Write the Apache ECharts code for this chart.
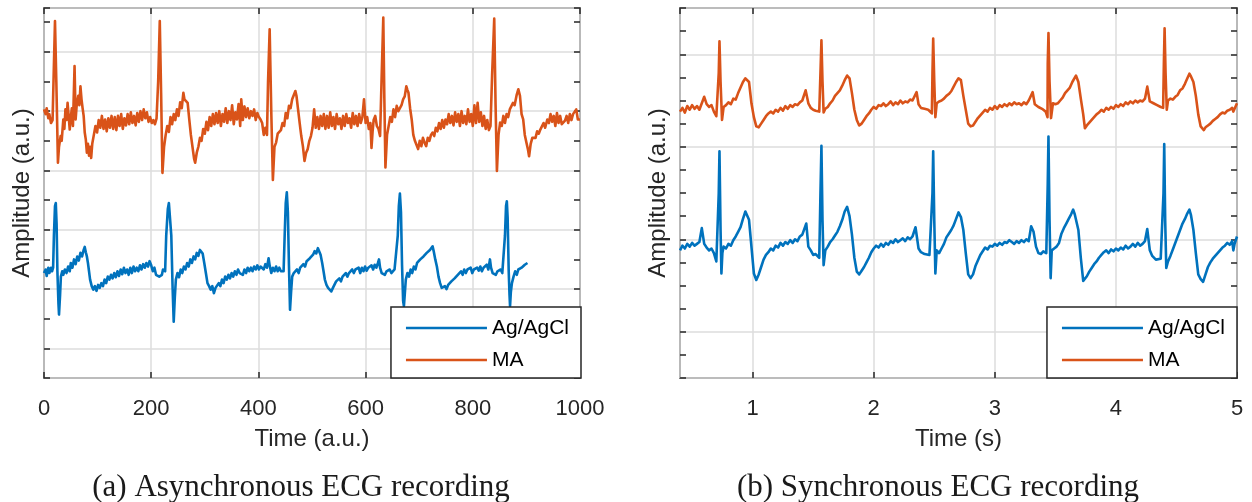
<!DOCTYPE html>
<html>
<head>
<meta charset="utf-8">
<script src="https://cdn.jsdelivr.net/npm/echarts@6/dist/echarts.min.js"></script>
<style>
  html, body { margin: 0; padding: 0; background: #fff; }
  #chart { width: 1252px; height: 502px; }
</style>
</head>
<body>
<div id="chart"></div>
<script>
// ---- (a) asynchronous recording: [time (a.u.), amplitude (a.u.)] ----
const asyncAgAgCl = [
  [0,1.27],[3,1.33],[5,1.22],[8,1.36],[10,1.27],[13,1.36],[15,1.30],[17,1.36],[18.5,1.9],[20.5,2.40],[22,2.45],[23.5,2.1],
  [25,1.3],[27,0.75],[28,0.57],[30,0.9],[31.5,1.21],[34,1.30],[36,1.24],[39,1.33],[42,1.27],[45,1.38],[48,1.30],[50,1.44],
  [53,1.36],[56,1.50],[59,1.42],[62,1.55],[65,1.48],[68,1.61],[71,1.55],[74,1.66],[76,1.71],[78,1.62],[80,1.55],[82,1.44],
  [84,1.30],[86,1.16],[89,1.05],[92,0.99],[95,1.05],[98,0.97],[101,1.07],[104,1.02],[107,1.10],[110,1.05],[113,1.16],
  [116,1.10],[119,1.21],[122,1.16],[125,1.24],[128,1.18],[131,1.27],[134,1.20],[137,1.30],[140,1.22],[143,1.33],[146,1.25],
  [149,1.36],[152,1.27],[155,1.33],[158,1.24],[161,1.36],[164,1.27],[167,1.38],[170,1.30],[173,1.36],[176,1.30],[179,1.40],
  [182,1.33],[185,1.42],[188,1.36],[191,1.44],[194,1.38],[197,1.47],[200,1.40],[203,1.30],[206,1.36],[209,1.24],[212,1.27],
  [215,1.21],[218,1.24],[220,1.24],[222,1.33],[226,1.30],[228,1.9],[231,2.35],[233,2.45],[235.5,2.45],[237.5,1.9],[240,1.0],
  [242,0.45],[244,0.85],[246,1.16],[249,1.27],[252,1.20],[255,1.33],[258,1.27],[261,1.38],[264,1.33],[267,1.44],[270,1.38],
  [273,1.50],[276,1.44],[279,1.55],[282,1.50],[285,1.61],[288,1.56],[291,1.66],[294,1.69],[296,1.60],[299,1.44],[302,1.27],
  [305,1.10],[308,1.05],[311,0.99],[314,1.05],[317,0.93],[320,1.02],[323,0.99],[326,1.10],[329,1.05],[332,1.16],[335,1.10],
  [338,1.21],[341,1.16],[344,1.24],[347,1.18],[350,1.27],[353,1.21],[356,1.30],[359,1.24],[362,1.33],[365,1.27],[368,1.30],
  [371,1.24],[374,1.33],[377,1.27],[380,1.36],[383,1.30],[386,1.36],[389,1.30],[392,1.38],[395,1.33],[398,1.40],[401,1.33],
  [404,1.38],[407,1.38],[410,1.33],[413,1.42],[416,1.36],[419,1.52],[421,1.40],[424,1.27],[427,1.36],[430,1.30],[433,1.38],
  [436,1.30],[439,1.36],[442,1.30],[445,1.33],[447,1.30],[449,1.9],[451,2.45],[453,2.63],[455,2.3],[457,1.4],[459,0.65],
  [461,0.95],[463,1.21],[466,1.27],[469,1.24],[472,1.33],[475,1.27],[478,1.36],[481,1.33],[484,1.42],[487,1.38],[490,1.47],
  [493,1.44],[496,1.52],[499,1.50],[502,1.58],[505,1.64],[508,1.60],[511,1.69],[513,1.71],[516,1.58],[519,1.44],[521,1.33],
  [524,1.16],[527,1.07],[530,1.02],[533,1.05],[536,0.96],[539,1.02],[542,1.05],[545,1.13],[548,1.10],[551,1.18],[554,1.13],
  [557,1.21],[560,1.18],[563,1.27],[566,1.21],[569,1.27],[572,1.24],[575,1.33],[578,1.27],[581,1.33],[584,1.30],[587,1.36],
  [590,1.27],[593,1.36],[596,1.30],[599,1.38],[602,1.31],[605,1.36],[608,1.33],[611,1.40],[614,1.33],[617,1.41],[620,1.36],
  [623,1.44],[625,1.50],[627,1.36],[630,1.27],[633,1.30],[636,1.24],[639,1.30],[642,1.27],[645,1.33],[648,1.27],[651,1.30],
  [654,1.33],[657,1.30],[660,1.9],[662,2.4],[664,2.61],[666,2.3],[668,1.4],[670,0.8],[671.5,0.71],[673,0.9],[675,1.16],
  [678,1.27],[681,1.21],[684,1.33],[687,1.27],[690,1.38],[693,1.33],[696,1.44],[699,1.41],[702,1.50],[705,1.47],[708,1.55],
  [711,1.52],[714,1.61],[717,1.58],[720,1.66],[723,1.69],[725,1.72],[727,1.64],[730,1.50],[733,1.38],[736,1.21],[739,1.10],
  [742,1.02],[745,0.99],[748,1.05],[751,1.00],[754,1.07],[757,1.05],[760,1.13],[763,1.10],[766,1.18],[769,1.16],[772,1.24],
  [775,1.21],[778,1.30],[781,1.24],[784,1.33],[787,1.27],[790,1.33],[793,1.30],[796,1.36],[799,1.27],[802,1.33],[805,1.30],
  [808,1.36],[811,1.31],[814,1.38],[817,1.30],[820,1.36],[823,1.33],[826,1.41],[829,1.33],[832,1.50],[834,1.36],[837,1.27],
  [840,1.30],[843,1.24],[846,1.30],[849,1.27],[852,1.33],[855,1.27],[858,1.30],[860,1.9],[862,2.4],[863.5,2.48],[865,2.2],
  [867,1.3],[868.5,0.9],[869.5,0.71],[871,0.95],[873,1.10],[876,1.21],[879,1.30],[882,1.24],[885,1.33],[888,1.30],[891,1.36],
  [894,1.33],[897,1.41],[900,1.42],[902,1.44]
];

const asyncMA = [
  [0,4.03],[3,3.95],[5,4.05],[8,3.88],[10,3.95],[13,3.80],[16,3.85],[18,4.60],[20.5,5.52],[23,4.50],[26,3.13],[28,3.40],
  [31,3.58],[33,3.50],[36,3.86],[38,3.70],[40,4.03],[42,3.85],[44,4.14],[46,3.92],[48,3.69],[50,3.90],[52,4.05],[54,3.75],
  [57,4.76],[59,3.86],[61,4.10],[64,4.26],[66,4.10],[68,4.42],[70,4.20],[72,4.05],[74,3.92],[76,3.64],[78,3.52],[80,3.30],
  [82,3.45],[84,3.25],[86,3.40],[88,3.21],[90,3.45],[93,3.60],[96,3.75],[99,3.64],[102,3.85],[105,3.72],[108,3.92],[111,3.70],
  [114,3.86],[117,3.66],[120,3.88],[123,3.72],[126,3.92],[129,3.70],[132,3.90],[135,3.68],[138,3.92],[141,3.75],[144,3.95],
  [147,3.70],[150,3.88],[153,3.76],[156,3.95],[159,3.78],[162,3.98],[165,3.80],[168,3.92],[171,3.76],[174,3.97],[177,3.82],
  [180,4.00],[183,3.85],[186,4.03],[189,3.88],[192,3.98],[195,3.82],[198,3.90],[201,3.80],[204,3.85],[207,3.78],[210,3.88],
  [213,4.50],[216,5.52],[218.5,4.30],[221,2.96],[224,3.40],[227,3.60],[230,3.75],[233,3.65],[236,3.90],[239,3.78],[242,3.95],
  [245,3.85],[248,4.03],[251,3.92],[254,4.15],[257,4.05],[260,4.31],[262,4.20],[265,4.22],[268,4.14],[271,3.86],[274,3.60],
  [277,3.40],[280,3.20],[282,3.13],[285,3.30],[288,3.40],[291,3.55],[294,3.50],[297,3.70],[300,3.62],[303,3.82],[306,3.68],
  [309,3.90],[312,3.75],[315,3.95],[318,3.78],[321,3.97],[324,3.80],[327,4.00],[330,3.75],[333,3.95],[336,3.82],[339,4.05],
  [342,3.80],[345,4.00],[348,3.85],[351,4.10],[354,3.78],[357,3.98],[360,3.86],[363,4.12],[366,3.75],[368,4.20],[371,3.85],
  [374,4.08],[377,3.90],[380,4.05],[383,3.88],[386,4.00],[389,3.92],[392,4.03],[395,3.85],[398,3.97],[401,3.90],[404,3.86],
  [407,3.80],[410,3.60],[413,3.72],[416,3.60],[418,4.50],[421,5.38],[424,4.00],[427,2.84],[430,3.40],[433,3.47],[436,3.62],
  [439,3.64],[442,3.68],[445,3.80],[448,3.75],[451,3.97],[454,3.88],[457,4.09],[460,4.05],[463,4.20],[466,4.22],[469,4.34],
  [471,4.26],[474,4.03],[477,3.80],[480,3.58],[483,3.41],[486,3.16],[489,3.30],[492,3.36],[495,3.50],[498,3.58],[501,3.72],
  [504,4.03],[507,3.72],[510,3.90],[513,3.70],[516,3.92],[519,3.75],[522,3.95],[525,3.70],[528,3.92],[531,3.72],[534,3.98],
  [537,3.75],[540,3.90],[543,3.70],[546,3.95],[549,3.78],[552,3.88],[555,3.70],[558,3.92],[561,3.75],[564,3.95],[567,3.80],
  [570,3.88],[573,3.72],[576,3.97],[579,3.78],[582,3.92],[585,3.75],[588,3.95],[591,3.80],[594,3.90],[597,4.20],[600,3.80],
  [603,3.90],[606,3.70],[609,3.80],[611,3.38],[613,3.65],[615,3.85],[618,3.92],[621,3.75],[624,3.70],[627,3.58],[630,4.60],
  [633,5.58],[635,4.20],[637,3.05],[640,3.60],[643,3.75],[646,3.90],[649,3.82],[652,4.03],[655,3.90],[658,4.09],[661,4.00],
  [664,4.03],[667,4.10],[670,4.20],[673,4.25],[676,4.42],[678,4.36],[680,4.31],[683,4.05],[686,3.86],[689,3.60],[692,3.50],
  [695,3.47],[698,3.36],[701,3.50],[704,3.41],[707,3.55],[710,3.47],[713,3.41],[716,3.55],[719,3.50],[722,3.60],[725,3.64],
  [728,3.58],[731,3.72],[734,3.66],[737,3.80],[740,3.70],[743,3.85],[746,3.72],[749,3.86],[752,3.78],[755,3.95],[758,3.80],
  [761,3.92],[764,3.76],[767,3.98],[770,3.82],[773,3.95],[776,3.75],[779,4.00],[782,3.80],[785,3.92],[788,3.78],[791,4.03],
  [794,3.82],[797,3.95],[800,3.75],[803,4.10],[806,3.80],[809,4.14],[812,3.82],[815,3.98],[818,3.75],[821,3.92],[824,3.70],
  [827,3.85],[830,3.68],[833,3.75],[836,4.60],[840,5.56],[842.5,4.10],[845,2.99],[848,3.60],[851,3.81],[854,3.75],[857,3.92],
  [860,3.80],[863,3.95],[866,3.90],[869,4.03],[872,4.00],[875,4.14],[878,4.10],[882,4.28],[885,4.37],[888,4.26],[891,3.95],
  [894,3.86],[897,3.60],[900,3.47],[903,3.35],[905,3.24],[908,3.45],[911,3.55],[914,3.58],[917,3.55],[920,3.66],[923,3.62],
  [926,3.69],[929,3.66],[932,3.80],[935,3.72],[939,3.86],[942,3.80],[945,3.95],[948,3.82],[951,3.92],[954,3.75],[957,3.97],
  [960,3.80],[963,3.92],[966,3.78],[969,3.81],[972,3.84],[975,3.92],[978,3.80],[981,3.95],[984,3.85],[987,3.95],[990,3.97],
  [993,4.03],[996,3.86],[1000,3.86]
];

// ---- (b) synchronous recording: [time (s), amplitude (a.u.)] ----
const syncAgAgCl = [
  [0.40,0.88],[0.42,0.93],[0.44,0.90],[0.46,0.95],[0.48,0.92],[0.50,0.96],[0.52,0.93],[0.54,0.95],[0.56,0.97],[0.58,1.12],
  [0.60,0.95],[0.62,0.91],[0.64,0.88],[0.66,0.90],[0.68,0.85],[0.70,0.76],[0.715,0.74],[0.72,1.5],[0.726,1.95],[0.735,1.1],
  [0.742,0.63],[0.75,0.85],[0.76,0.92],[0.78,0.90],[0.80,0.95],[0.82,0.93],[0.84,0.99],[0.86,1.03],[0.88,1.08],[0.90,1.13],
  [0.92,1.22],[0.94,1.30],[0.955,1.30],[0.97,1.21],[0.99,0.92],[1.01,0.63],[1.03,0.56],[1.05,0.62],[1.07,0.70],[1.09,0.78],
  [1.11,0.83],[1.13,0.86],[1.15,0.90],[1.17,0.88],[1.19,0.93],[1.21,0.91],[1.23,0.96],[1.25,0.93],[1.27,0.97],[1.29,0.95],
  [1.31,0.99],[1.33,0.96],[1.35,1.00],[1.37,0.98],[1.39,1.03],[1.41,1.05],[1.443,1.17],[1.46,0.92],[1.48,0.88],[1.50,0.83],
  [1.52,0.84],[1.55,0.80],[1.56,1.5],[1.568,2.01],[1.577,1.2],[1.586,0.72],[1.60,0.88],[1.62,0.92],[1.64,0.97],[1.66,1.00],
  [1.68,1.04],[1.70,1.08],[1.72,1.14],[1.74,1.21],[1.76,1.30],[1.78,1.35],[1.80,1.25],[1.82,1.05],[1.84,0.80],[1.86,0.65],
  [1.88,0.62],[1.90,0.66],[1.92,0.70],[1.94,0.75],[1.96,0.80],[1.98,0.86],[2.00,0.90],[2.02,0.93],[2.04,0.91],[2.06,0.95],
  [2.08,0.92],[2.10,0.96],[2.12,0.94],[2.14,0.98],[2.16,0.96],[2.18,1.00],[2.20,0.97],[2.22,0.99],[2.24,1.01],[2.26,0.98],
  [2.28,1.02],[2.30,1.00],[2.32,1.03],[2.345,1.13],[2.37,0.90],[2.39,0.86],[2.42,0.84],[2.46,0.83],[2.485,1.5],[2.491,1.95],
  [2.50,1.2],[2.509,0.63],[2.52,0.88],[2.54,0.85],[2.56,0.90],[2.58,0.95],[2.60,1.02],[2.62,1.06],[2.64,1.10],[2.66,1.15],
  [2.68,1.22],[2.70,1.29],[2.72,1.24],[2.74,1.10],[2.76,0.85],[2.78,0.62],[2.80,0.58],[2.82,0.62],[2.84,0.71],[2.86,0.77],
  [2.88,0.83],[2.90,0.87],[2.92,0.91],[2.94,0.89],[2.96,0.93],[2.98,0.92],[3.00,0.95],[3.02,0.93],[3.04,0.96],[3.06,0.94],
  [3.08,0.97],[3.10,0.96],[3.12,0.99],[3.14,0.97],[3.16,0.95],[3.18,0.98],[3.20,0.96],[3.22,0.99],[3.24,0.97],[3.26,1.00],
  [3.28,0.98],[3.30,1.14],[3.32,1.08],[3.34,0.92],[3.36,0.85],[3.38,0.84],[3.40,0.87],[3.425,0.85],[3.437,1.6],[3.443,2.11],
  [3.452,1.2],[3.461,0.58],[3.47,0.88],[3.49,0.90],[3.51,0.92],[3.53,0.96],[3.55,1.06],[3.57,1.12],[3.59,1.17],[3.61,1.22],
  [3.63,1.27],[3.647,1.32],[3.66,1.27],[3.69,1.10],[3.71,0.80],[3.73,0.55],[3.744,0.53],[3.76,0.60],[3.78,0.65],[3.80,0.69],
  [3.82,0.73],[3.84,0.76],[3.86,0.80],[3.88,0.83],[3.90,0.86],[3.92,0.88],[3.94,0.85],[3.96,0.89],[3.98,0.87],[4.00,0.90],
  [4.02,0.88],[4.04,0.91],[4.06,0.89],[4.08,0.93],[4.10,0.90],[4.12,0.92],[4.14,0.95],[4.16,0.92],[4.18,0.96],[4.20,0.93],
  [4.22,0.95],[4.24,0.98],[4.259,1.11],[4.28,0.88],[4.30,0.82],[4.33,0.78],[4.37,0.79],[4.393,1.5],[4.399,2.03],[4.407,1.2],
  [4.416,0.69],[4.43,0.76],[4.45,0.82],[4.47,0.89],[4.49,0.96],[4.51,1.03],[4.53,1.10],[4.55,1.17],[4.57,1.22],[4.59,1.28],
  [4.607,1.32],[4.62,1.26],[4.64,1.10],[4.66,0.85],[4.68,0.62],[4.70,0.57],[4.72,0.54],[4.74,0.62],[4.76,0.70],[4.78,0.75],
  [4.80,0.79],[4.82,0.82],[4.84,0.85],[4.86,0.88],[4.88,0.91],[4.90,0.93],[4.92,0.96],[4.94,0.94],[4.96,0.98],[4.97,0.88],
  [4.98,0.95],[5.00,1.03]
];

const syncMA = [
  [0.40,2.38],[0.42,2.42],[0.44,2.37],[0.46,2.44],[0.48,2.40],[0.50,2.45],[0.52,2.41],[0.54,2.44],[0.56,2.40],[0.58,2.47],
  [0.60,2.54],[0.62,2.46],[0.64,2.43],[0.66,2.45],[0.68,2.38],[0.70,2.33],[0.71,2.32],[0.72,2.8],[0.726,3.14],[0.735,2.7],
  [0.747,2.29],[0.76,2.43],[0.78,2.45],[0.80,2.48],[0.82,2.46],[0.84,2.52],[0.86,2.51],[0.88,2.58],[0.90,2.64],[0.92,2.70],
  [0.94,2.74],[0.955,2.75],[0.97,2.70],[0.99,2.47],[1.01,2.32],[1.03,2.22],[1.05,2.21],[1.07,2.25],[1.09,2.29],[1.11,2.33],
  [1.13,2.36],[1.15,2.38],[1.17,2.36],[1.19,2.40],[1.21,2.38],[1.23,2.42],[1.25,2.39],[1.27,2.44],[1.29,2.41],[1.31,2.45],
  [1.33,2.43],[1.35,2.46],[1.37,2.45],[1.39,2.48],[1.41,2.50],[1.4375,2.61],[1.46,2.47],[1.48,2.42],[1.50,2.40],[1.52,2.39],
  [1.55,2.38],[1.56,2.8],[1.568,3.15],[1.577,2.7],[1.586,2.37],[1.60,2.41],[1.62,2.43],[1.64,2.47],[1.66,2.50],[1.68,2.55],
  [1.70,2.58],[1.72,2.61],[1.74,2.66],[1.76,2.72],[1.78,2.77],[1.80,2.74],[1.82,2.58],[1.84,2.40],[1.86,2.29],[1.88,2.23],
  [1.90,2.25],[1.92,2.29],[1.94,2.33],[1.96,2.36],[1.98,2.40],[2.00,2.43],[2.02,2.41],[2.04,2.45],[2.06,2.44],[2.08,2.47],
  [2.10,2.44],[2.12,2.46],[2.14,2.49],[2.16,2.45],[2.18,2.48],[2.20,2.46],[2.22,2.50],[2.24,2.47],[2.26,2.49],[2.28,2.48],
  [2.30,2.51],[2.32,2.50],[2.354,2.59],[2.37,2.46],[2.39,2.42],[2.42,2.41],[2.45,2.40],[2.48,2.36],[2.485,2.8],[2.491,3.17],
  [2.50,2.7],[2.509,2.32],[2.52,2.47],[2.54,2.49],[2.56,2.50],[2.58,2.52],[2.60,2.55],[2.62,2.57],[2.64,2.60],[2.66,2.65],
  [2.68,2.70],[2.70,2.74],[2.72,2.72],[2.74,2.55],[2.76,2.40],[2.78,2.25],[2.80,2.22],[2.82,2.23],[2.84,2.27],[2.86,2.31],
  [2.88,2.34],[2.90,2.37],[2.92,2.40],[2.94,2.38],[2.96,2.42],[2.98,2.40],[3.00,2.44],[3.02,2.41],[3.04,2.45],[3.06,2.43],
  [3.08,2.46],[3.10,2.44],[3.12,2.47],[3.14,2.45],[3.16,2.48],[3.18,2.46],[3.20,2.47],[3.22,2.45],[3.24,2.48],[3.26,2.46],
  [3.28,2.50],[3.3125,2.59],[3.33,2.46],[3.36,2.43],[3.39,2.41],[3.42,2.38],[3.435,2.32],[3.437,2.9],[3.443,3.23],[3.452,2.7],
  [3.464,2.31],[3.48,2.47],[3.50,2.46],[3.52,2.47],[3.54,2.50],[3.56,2.53],[3.58,2.58],[3.60,2.61],[3.62,2.64],[3.64,2.70],
  [3.67,2.77],[3.69,2.70],[3.71,2.52],[3.73,2.35],[3.744,2.20],[3.76,2.23],[3.78,2.26],[3.80,2.29],[3.82,2.32],[3.84,2.35],
  [3.86,2.37],[3.88,2.40],[3.90,2.38],[3.92,2.42],[3.94,2.40],[3.96,2.43],[3.98,2.41],[4.00,2.45],[4.02,2.43],[4.04,2.46],
  [4.06,2.44],[4.08,2.48],[4.10,2.46],[4.12,2.49],[4.14,2.47],[4.16,2.50],[4.18,2.48],[4.20,2.50],[4.22,2.49],[4.24,2.52],
  [4.259,2.65],[4.28,2.49],[4.31,2.47],[4.34,2.45],[4.37,2.43],[4.39,2.42],[4.396,2.9],[4.402,3.28],[4.41,2.8],[4.42,2.40],
  [4.43,2.50],[4.45,2.52],[4.47,2.51],[4.49,2.54],[4.51,2.56],[4.53,2.61],[4.55,2.63],[4.57,2.68],[4.59,2.74],[4.607,2.79],
  [4.62,2.76],[4.64,2.70],[4.66,2.55],[4.68,2.35],[4.70,2.22],[4.726,2.18],[4.74,2.21],[4.76,2.23],[4.78,2.25],[4.80,2.28],
  [4.82,2.30],[4.84,2.32],[4.86,2.35],[4.88,2.37],[4.90,2.36],[4.92,2.39],[4.94,2.40],[4.96,2.42],[4.97,2.38],[4.98,2.39],
  [5.00,2.47]
];

// axis ranges and tick steps
const asyncTimeRange = [0, 1000];
const asyncTimeStep = 200;
const asyncAmpRange = [-0.5, 5.74];
const asyncAmpTickStep = 0.5;
const syncTimeRange = [0.4, 5];
const syncAmpRange = [-0.5, 3.5];
const syncAmpTickStep = 0.25;

const seriesNames = ['Ag/AgCl', 'MA'];
const captions = ['(a) Asynchronous ECG recording', '(b) Synchronous ECG recording'];
const xTitles = ['Time (a.u.)', 'Time (s)'];
const yTitle = 'Amplitude (a.u.)';

const INK = '#262626';
const BLUE = '#0072BD';
const ORANGE = '#D95319';
const GRIDLINE = '#dcdcdc';
const SANS = 'Liberation Sans';

const tickStyle = { show: true, inside: true, length: 6, lineStyle: { color: INK, width: 1.5 } };

function bottomX(gridIndex, range, interval, title) {
  const ax = {
    type: 'value', gridIndex, position: 'bottom', min: range[0], max: range[1],
    axisLine: { show: false, onZero: false },
    axisTick: tickStyle,
    axisLabel: { show: true, color: INK, fontFamily: SANS, fontSize: 22, margin: 20,
                 showMinLabel: interval != null, formatter: v => String(v) },
    splitLine: { show: true, lineStyle: { color: GRIDLINE, width: 1.5 } },
    name: title, nameLocation: 'middle', nameGap: 49,
    nameTextStyle: { color: INK, fontFamily: SANS, fontSize: 24 }
  };
  if (interval != null) ax.interval = interval; else ax.splitNumber = 5;
  return ax;
}
function topX(gridIndex, range, interval) {
  const ax = {
    type: 'value', gridIndex, position: 'top', min: range[0], max: range[1],
    axisLine: { show: false, onZero: false }, axisTick: tickStyle,
    axisLabel: { show: false }, splitLine: { show: false }
  };
  if (interval != null) ax.interval = interval; else ax.splitNumber = 5;
  return ax;
}
function gridY(gridIndex, range, splitNumber, withName) {
  return {
    type: 'value', gridIndex, position: 'left', min: range[0], max: range[1], splitNumber,
    axisLine: { show: false, onZero: false }, axisTick: { show: false }, axisLabel: { show: false },
    splitLine: { show: true, lineStyle: { color: GRIDLINE, width: 1.5 } },
    name: withName ? yTitle : '', nameLocation: 'middle', nameGap: 10,
    nameTextStyle: { color: INK, fontFamily: SANS, fontSize: 24 }
  };
}
function tickY(gridIndex, range, step, position) {
  return {
    type: 'value', gridIndex, position, min: range[0], max: range[1], interval: step,
    axisLine: { show: false, onZero: false }, axisTick: tickStyle, axisLabel: { show: false }, splitLine: { show: false }
  };
}
function legendAt(right) {
  return {
    data: seriesNames, orient: 'vertical', right, bottom: 124,
    icon: 'rect', itemWidth: 81, itemHeight: 2.5, itemGap: 8,
    padding: [9, 12, 6, 15],
    backgroundColor: '#fff', borderColor: INK, borderWidth: 1.5, borderRadius: 0,
    textStyle: { color: '#000', fontFamily: SANS, fontSize: 21, lineHeight: 24 },
    selectedMode: false
  };
}
function lineSeries(name, data, xi, yi, color) {
  return {
    type: 'line', name, data, xAxisIndex: xi, yAxisIndex: yi,
    showSymbol: false, symbol: 'none', smooth: false,
    lineStyle: { color, width: 2.6, join: 'round' }, itemStyle: { color },
    emphasis: { disabled: true }, z: 3
  };
}

const chart = echarts.init(document.getElementById('chart'), null, { renderer: 'canvas' });
chart.setOption({
  animation: false,
  backgroundColor: '#fff',
  grid: [
    { left: 44, top: 8, width: 536, height: 370, show: true, borderColor: INK, borderWidth: 1.6, backgroundColor: 'transparent' },
    { left: 680, top: 8, width: 557, height: 370, show: true, borderColor: INK, borderWidth: 1.6, backgroundColor: 'transparent' }
  ],
  xAxis: [
    bottomX(0, asyncTimeRange, asyncTimeStep, xTitles[0]),
    topX(0, asyncTimeRange, asyncTimeStep),
    bottomX(1, syncTimeRange, null, xTitles[1]),
    topX(1, syncTimeRange, null)
  ],
  yAxis: [
    gridY(0, asyncAmpRange, 6, true),
    tickY(0, asyncAmpRange, asyncAmpTickStep, 'left'),
    tickY(0, asyncAmpRange, asyncAmpTickStep, 'right'),
    gridY(1, syncAmpRange, 4, true),
    tickY(1, syncAmpRange, syncAmpTickStep, 'left'),
    tickY(1, syncAmpRange, syncAmpTickStep, 'right')
  ],
  legend: [legendAt(1252 - 581), legendAt(1252 - 1237)],
  series: [
    lineSeries(seriesNames[0], asyncAgAgCl, 0, 0, BLUE),
    lineSeries(seriesNames[1], asyncMA, 0, 0, ORANGE),
    lineSeries(seriesNames[0], syncAgAgCl, 2, 3, BLUE),
    lineSeries(seriesNames[1], syncMA, 2, 3, ORANGE)
  ],
  graphic: [
    { type: 'text', x: 301, y: 488, silent: true,
      style: { text: captions[0], fill: '#1a1a1a', font: '31px "Liberation Serif"', align: 'center', verticalAlign: 'middle' } },
    { type: 'text', x: 938, y: 488, silent: true,
      style: { text: captions[1], fill: '#1a1a1a', font: '31px "Liberation Serif"', align: 'center', verticalAlign: 'middle' } }
  ]
});
</script>
</body>
</html>
